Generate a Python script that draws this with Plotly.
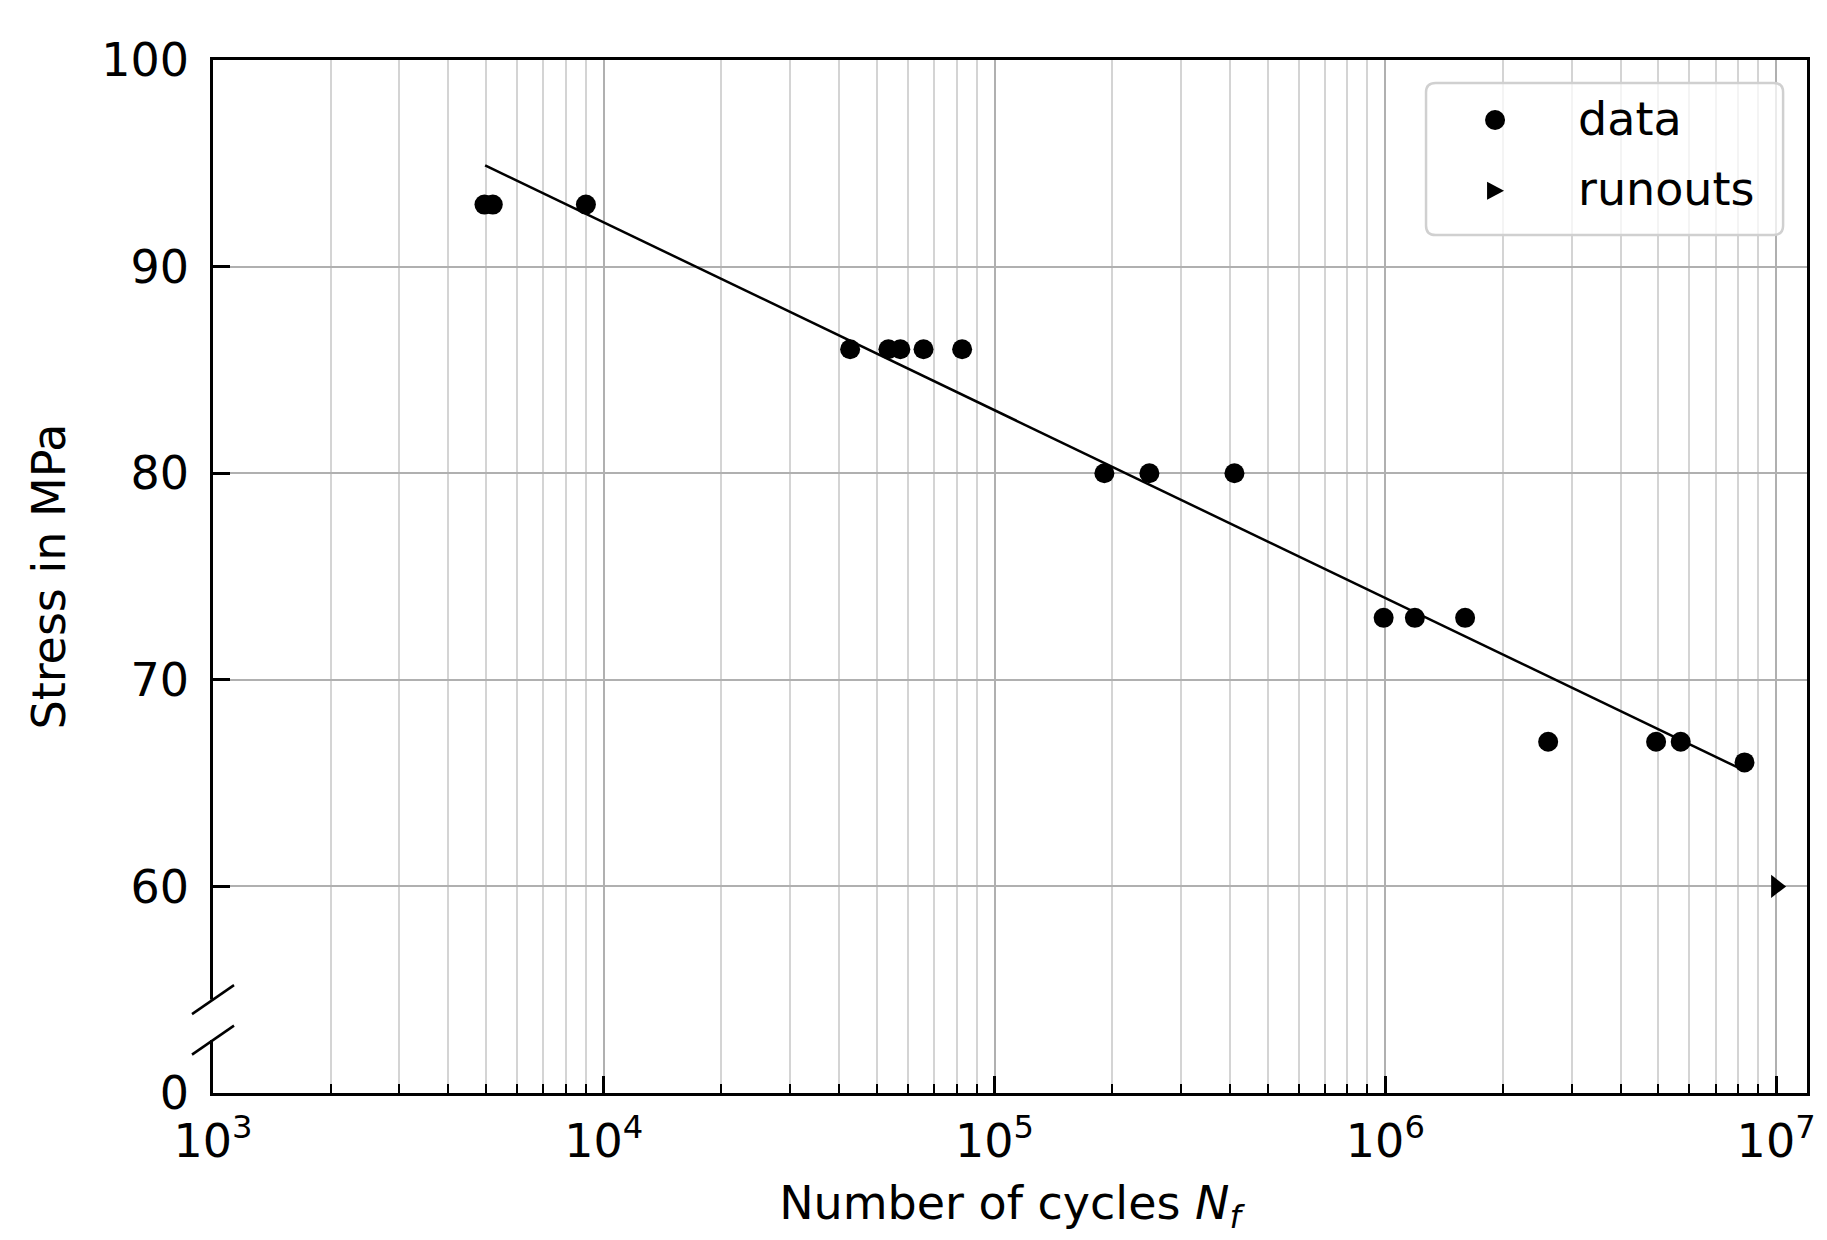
import plotly.graph_objects as go

# ---- data ----
data_N = [4.95e3, 5.2e3, 9.0e3,
          4.27e4, 5.35e4, 5.74e4, 6.58e4, 8.26e4,
          1.91e5, 2.49e5, 4.11e5,
          9.9e5, 1.19e6, 1.60e6,
          2.61e6, 4.93e6, 5.70e6,
          8.30e6]
data_S = [93, 93, 93,
          86, 86, 86, 86, 86,
          80, 80, 80,
          73, 73, 73,
          67, 67, 67,
          66]
runout_N = [1.0e7]
runout_S = [60]
fit_N = [4.97e3, 8.3e6]
fit_S = [94.9, 65.6]

x_tickvals = [1e3, 1e4, 1e5, 1e6, 1e7]
x_ticktext = ["10<sup>3</sup>", "10<sup>4</sup>", "10<sup>5</sup>", "10<sup>6</sup>", "10<sup>7</sup>"]
x_minor = [m * 10 ** e for e in range(3, 7) for m in range(2, 10)]
y_tickvals = [50, 60, 70, 80, 90, 100]
y_ticktext = ["0", "60", "70", "80", "90", "100"]
legend_labels = ["data", "runouts"]

FONT = "DejaVu Sans"
FS = 46

fig = go.Figure()
fig.add_trace(go.Scatter(x=fit_N, y=fit_S, mode="lines",
                         line=dict(color="black", width=2.5), showlegend=False))
fig.add_trace(go.Scatter(x=data_N, y=data_S, mode="markers", name=legend_labels[0],
                         marker=dict(color="black", size=20, symbol="circle"),
                         showlegend=False))
fig.add_trace(go.Scatter(x=runout_N, y=runout_S, mode="markers", name=legend_labels[1],
                         marker=dict(color="black", size=20, symbol="triangle-right"),
                         showlegend=False))

# legend frame (rounded)
x0, x1, y0, y1 = 0.761, 0.985, 0.8306, 0.9777
rx, ry = 0.006, 0.009
path = (f"M {x0+rx},{y0} L {x1-rx},{y0} Q {x1},{y0} {x1},{y0+ry} "
        f"L {x1},{y1-ry} Q {x1},{y1} {x1-rx},{y1} L {x0+rx},{y1} "
        f"Q {x0},{y1} {x0},{y1-ry} L {x0},{y0+ry} Q {x0},{y0} {x0+rx},{y0} Z")

sym_x = 0.8043
row_y = [0.9419, 0.8735]
text_x = 0.8550
text_y = [0.943, 0.875]

shapes = [
    dict(type="path", xref="paper", yref="paper", path=path,
         fillcolor="rgba(255,255,255,0.75)", line=dict(color="#d0d0d0", width=2.5),
         layer="above"),
    # legend symbols
    dict(type="circle", xref="paper", yref="paper", xsizemode="pixel", ysizemode="pixel",
         xanchor=sym_x, yanchor=row_y[0], x0=-10, x1=10, y0=-10, y1=10,
         fillcolor="black", line=dict(color="black", width=0), layer="above"),
    dict(type="path", xref="paper", yref="paper", xsizemode="pixel", ysizemode="pixel",
         xanchor=sym_x, yanchor=row_y[1], path="M -8,-9 L 9,0 L -8,9 Z",
         fillcolor="black", line=dict(color="black", width=0), layer="above"),
    # gap in the y axis line
    dict(type="line", xref="paper", yref="y", xsizemode="pixel", xanchor=0,
         x0=0, x1=0, y0=52.56, y1=54.52, line=dict(color="white", width=6), layer="above"),
    # break marks
    dict(type="line", xref="paper", yref="y", xsizemode="pixel", xanchor=0,
         ysizemode="pixel", yanchor=54.52, x0=-21, x1=21, y0=-14.5, y1=14.5,
         line=dict(color="black", width=2.5), layer="above"),
    dict(type="line", xref="paper", yref="y", xsizemode="pixel", xanchor=0,
         ysizemode="pixel", yanchor=52.56, x0=-21, x1=21, y0=-14.5, y1=14.5,
         line=dict(color="black", width=2.5), layer="above"),
]

annotations = [
    dict(text=legend_labels[i], xref="paper", yref="paper", x=text_x, y=text_y[i],
         xanchor="left", yanchor="middle", showarrow=False,
         font=dict(family=FONT, size=FS, color="black"))
    for i in range(2)
]

fig.update_layout(
    width=1827, height=1240,
    margin=dict(l=205, r=28, t=52, b=155),
    paper_bgcolor="white", plot_bgcolor="white",
    font=dict(family=FONT, size=FS, color="black"),
    shapes=shapes, annotations=annotations,
    showlegend=False,
)
fig.update_xaxes(
    type="log", range=[3, 7.079],
    tickvals=x_tickvals, ticktext=x_ticktext,
    ticks="inside", ticklen=17, tickwidth=2.5, tickcolor="black",
    showline=True, linecolor="black", linewidth=2.5, mirror=True,
    showgrid=True, gridcolor="#b0b0b0", gridwidth=2,
    minor=dict(tickvals=x_minor, ticks="inside", ticklen=9, tickwidth=2,
               tickcolor="black", showgrid=True, gridcolor="#d4d4d4", gridwidth=2),
    ticklabelstandoff=6,
    title=dict(text="Number of cycles <i>N</i><sub><i>f</i></sub>", standoff=20,
               font=dict(size=FS)),
    zeroline=False,
)
fig.update_yaxes(
    range=[50, 100],
    tickvals=y_tickvals, ticktext=y_ticktext,
    ticks="inside", ticklen=17, tickwidth=2.5, tickcolor="black",
    showline=True, linecolor="black", linewidth=2.5, mirror=True,
    showgrid=True, gridcolor="#b0b0b0", gridwidth=2,
    ticklabelstandoff=12,
    title=dict(text="Stress in MPa", standoff=22, font=dict(size=FS)),
    zeroline=False,
)

fig.write_html("out.html")
